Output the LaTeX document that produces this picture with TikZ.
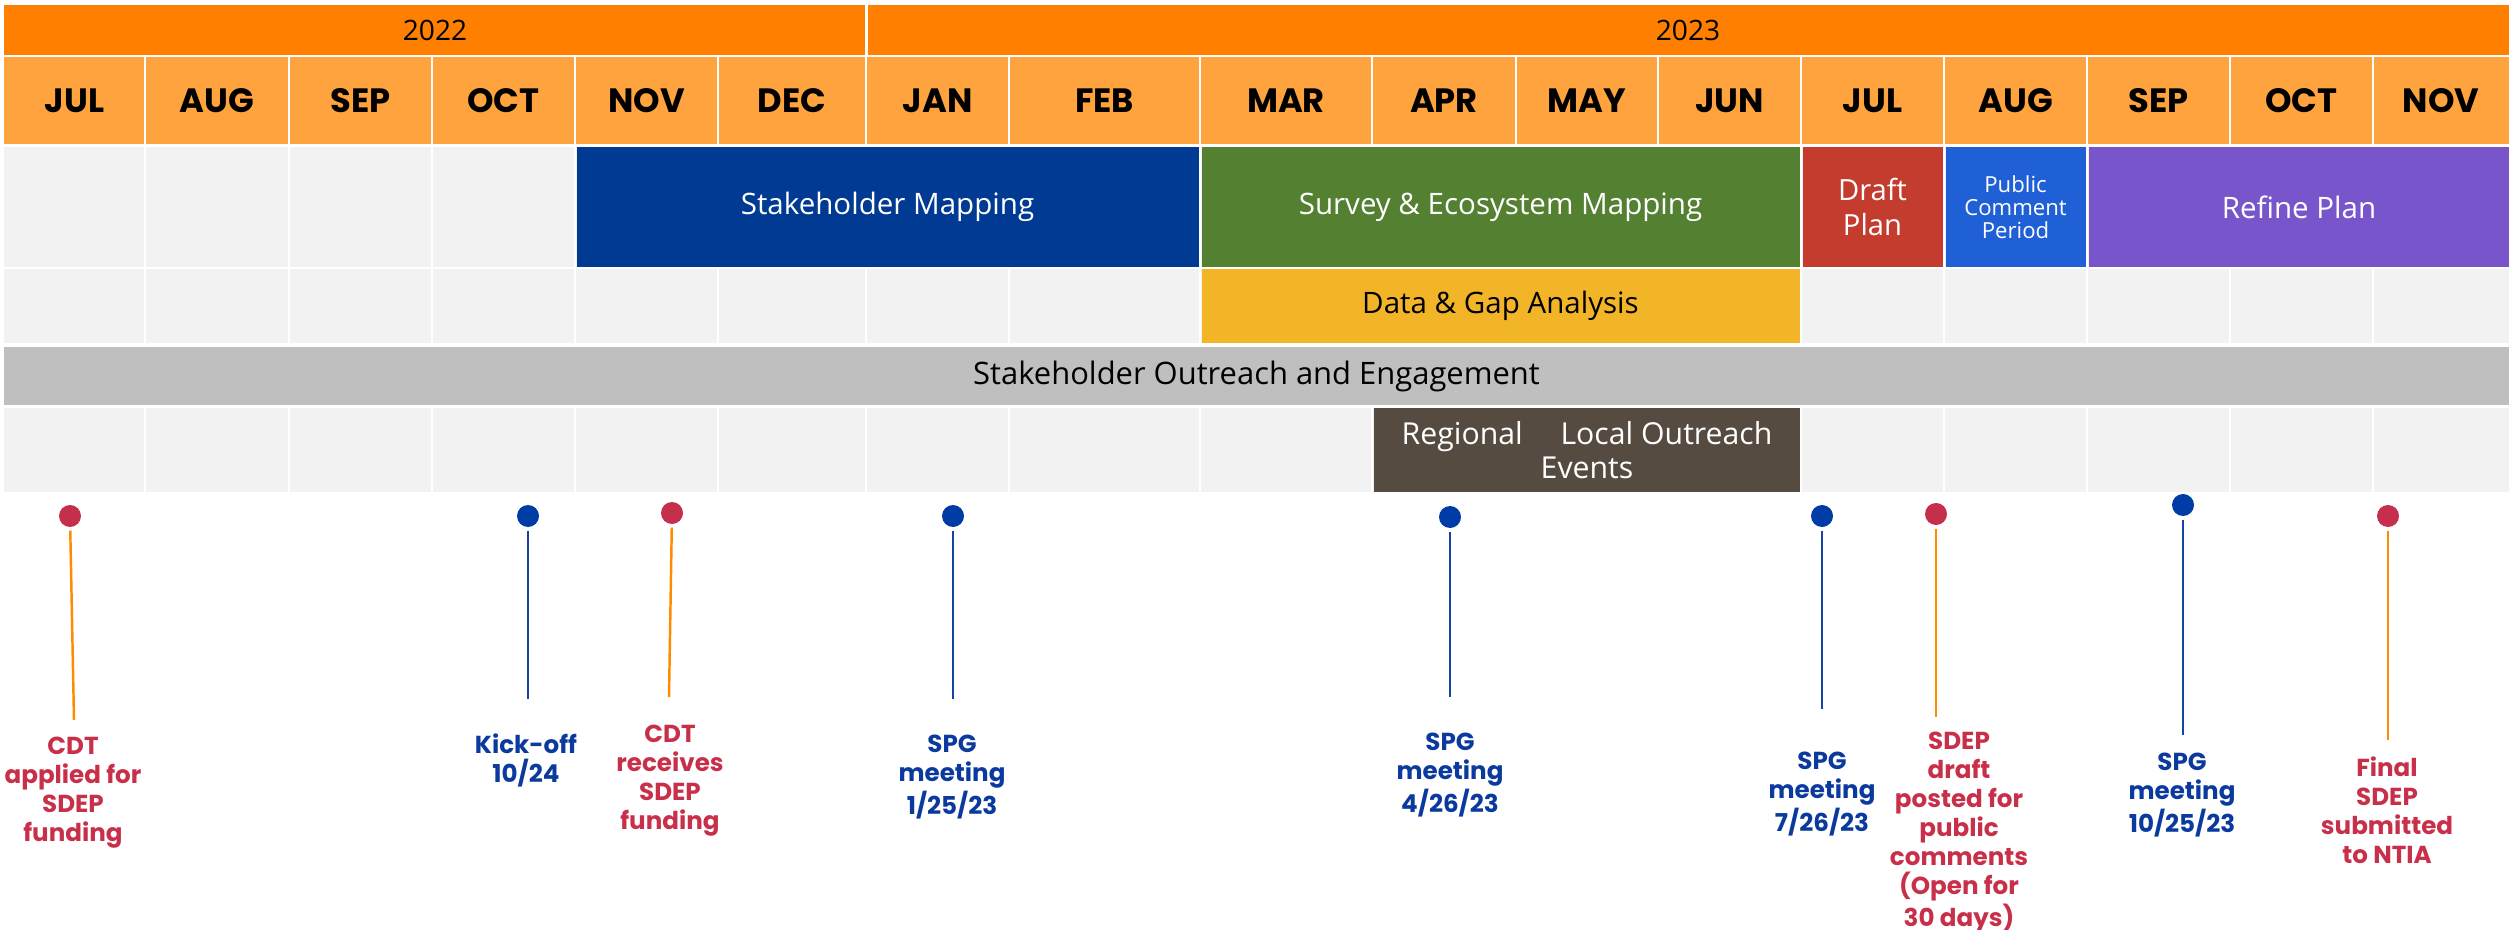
\documentclass[tikz,border=0pt]{standalone}
\usepackage{fontspec}
\setmainfont{Open Sans}
\newfontfamily\popfont{Poppins}
\usepackage{xcolor}
\usepackage{tikz}

\definecolor{yearorange}{HTML}{FF8000}
\definecolor{monthorange}{HTML}{FFA33F}
\definecolor{cellgray}{HTML}{F2F2F2}
\definecolor{smblue}{HTML}{003A93}
\definecolor{surveygreen}{HTML}{548032}
\definecolor{draftred}{HTML}{C43C2D}
\definecolor{publicblue}{HTML}{2060D6}
\definecolor{refinepurple}{HTML}{7855CB}
\definecolor{datayellow}{HTML}{F2B528}
\definecolor{outreachgray}{HTML}{BFBFBF}
\definecolor{regionalbrown}{HTML}{554B41}
\definecolor{dotred}{HTML}{C52F4B}
\definecolor{dotblue}{HTML}{003CA6}
\definecolor{lineorange}{HTML}{FF8C00}
\definecolor{lineblue}{HTML}{1442A8}
\definecolor{labelred}{HTML}{C8304A}
\definecolor{labelblue}{HTML}{0B3A9E}

\begin{document}
\begin{tikzpicture}[x=1cm,y=-1cm,
  gapline/.style={white,line width=0.8pt},
  yeartext/.style={font=\fontsize{8}{10}\selectfont,text=black},
  monthtext/.style={font=\popfont\bfseries\fontsize{9.6}{11}\selectfont,text=black},
  phasetext/.style={font=\fontsize{8.4}{10}\selectfont,text=white,align=center},
  reddot/.style={circle,fill=dotred,inner sep=0pt,minimum size=0.22cm},
  bluedot/.style={circle,fill=dotblue,inner sep=0pt,minimum size=0.22cm},
  orangeline/.style={lineorange,line width=0.7pt,shorten <=0.03cm},
  blueline/.style={lineblue,line width=0.7pt,shorten <=0.03cm},
  redlabel/.style={anchor=north,inner sep=0pt,align=center,text=labelred,font=\popfont\bfseries\fontsize{7}{8.25}\selectfont},
  bluelabel/.style={anchor=north,inner sep=0pt,align=center,text=labelblue,font=\popfont\bfseries\fontsize{7}{8.25}\selectfont}]

\useasboundingbox (0,0) rectangle (25.09,9.30);

\fill[yearorange] (0.04,0.05) rectangle (8.645,0.55);			% year 2022
\fill[yearorange] (8.675,0.05) rectangle (25.09,0.55);			% year 2023
\node[yeartext] (y2022) at (4.35,0.30) {2022};
\node[yeartext] (y2023) at (16.88,0.30) {2023};

\fill[monthorange] (0.04,0.57) rectangle (25.09,1.44);			% month row
\fill[cellgray] (0.04,1.47) rectangle (25.09,2.67);				% row 1
\fill[cellgray] (0.04,2.69) rectangle (25.09,3.43);				% row 2
\fill[cellgray] (0.04,4.08) rectangle (25.09,4.92);				% row 4
\foreach \x in {1.45,2.89,4.32,5.75,7.18,8.66,10.09,12.00,13.72,15.16,16.58,18.01,19.44,20.87,22.30,23.73}
  \draw[gapline] (\x,0.57) -- (\x,4.92);						% column gaps

\node[monthtext] (jul22) at (0.745,1.005) {JUL};
\node[monthtext] (aug22) at (2.17,1.005) {AUG};
\node[monthtext] (sep22) at (3.605,1.005) {SEP};
\node[monthtext] (oct22) at (5.035,1.005) {OCT};
\node[monthtext] (nov22) at (6.465,1.005) {NOV};
\node[monthtext] (dec22) at (7.92,1.005) {DEC};
\node[monthtext] (jan23) at (9.375,1.005) {JAN};
\node[monthtext] (feb23) at (11.045,1.005) {FEB};
\node[monthtext] (mar23) at (12.86,1.005) {MAR};
\node[monthtext] (apr23) at (14.44,1.005) {APR};
\node[monthtext] (may23) at (15.87,1.005) {MAY};
\node[monthtext] (jun23) at (17.295,1.005) {JUN};
\node[monthtext] (jul23) at (18.725,1.005) {JUL};
\node[monthtext] (aug23) at (20.155,1.005) {AUG};
\node[monthtext] (sep23) at (21.585,1.005) {SEP};
\node[monthtext] (oct23) at (23.015,1.005) {OCT};
\node[monthtext] (nov23) at (24.41,1.005) {NOV};

\fill[smblue] (5.765,1.47) rectangle (11.985,2.67);				% stakeholder mapping
\node[phasetext] (stakemap) at (8.875,2.07) {Stakeholder Mapping};
\fill[surveygreen] (12.015,1.47) rectangle (18.00,2.67);			% survey
\node[phasetext] (survey) at (15.005,2.07) {Survey \& Ecosystem Mapping};
\fill[draftred] (18.025,1.47) rectangle (19.425,2.67);			% draft plan
\node[phasetext,font=\fontsize{8.3}{10}\selectfont] (draft) at (18.725,2.07) {Draft\\Plan};
\fill[publicblue] (19.455,1.47) rectangle (20.855,2.67);			% public comment
\node[phasetext,font=\fontsize{6.3}{6.6}\selectfont] (pubcomment) at (20.155,2.07) {Public\\Comment\\Period};
\fill[refinepurple] (20.885,1.47) rectangle (25.09,2.67);			% refine plan
\node[phasetext] (refine) at (22.99,2.07) {Refine Plan};

\fill[datayellow] (12.015,2.69) rectangle (18.00,3.43);			% data and gap
\node[phasetext,text=black] (datagap) at (15.005,3.06) {Data \& Gap Analysis};

\fill[outreachgray] (0.04,3.47) rectangle (25.09,4.05);			% outreach band
\node[phasetext,text=black,font=\fontsize{8.8}{10}\selectfont] (outreach) at (12.565,3.76) {Stakeholder Outreach and Engagement};

\fill[regionalbrown] (13.735,4.08) rectangle (18.00,4.92);		% regional events
\node[phasetext,font=\fontsize{8.6}{9.7}\selectfont] (regional) at (15.87,4.50) {Regional \phantom{\&} Local Outreach\\Events};

\node[reddot] (d1) at (0.70,5.16) {};							% applied
\coordinate (e1) at (0.74,7.20);
\draw[orangeline] (d1) -- (e1);
\node[redlabel] (t1) at (0.73,7.36) {CDT\\applied for\\SDEP\\funding};

\node[bluedot] (d2) at (5.28,5.16) {};							% kick-off
\coordinate (e2) at (5.28,6.99);
\draw[blueline] (d2) -- (e2);
\node[bluelabel] (t2) at (5.26,7.33) {Kick-off\\10/24};

\node[reddot] (d3) at (6.72,5.13) {};							% receives
\coordinate (e3) at (6.69,6.97);
\draw[orangeline] (d3) -- (e3);
\node[redlabel] (t3) at (6.70,7.24) {CDT\\receives\\SDEP\\funding};

\node[bluedot] (d4) at (9.53,5.16) {};							% SPG 1
\coordinate (e4) at (9.53,6.99);
\draw[blueline] (d4) -- (e4);
\node[bluelabel] (t4) at (9.52,7.34) {SPG\\meeting\\1/25/23};

\node[bluedot] (d5) at (14.50,5.17) {};							% SPG 2
\coordinate (e5) at (14.50,6.97);
\draw[blueline] (d5) -- (e5);
\node[bluelabel] (t5) at (14.50,7.32) {SPG\\meeting\\4/26/23};

\node[bluedot] (d6) at (18.22,5.16) {};							% SPG 3
\coordinate (e6) at (18.22,7.09);
\draw[blueline] (d6) -- (e6);
\node[bluelabel] (t6) at (18.22,7.51) {SPG\\meeting\\7/26/23};

\node[reddot] (d7) at (19.36,5.14) {};							% draft posted
\coordinate (e7) at (19.36,7.17);
\draw[orangeline] (d7) -- (e7);
\node[redlabel] (t7) at (19.59,7.31) {SDEP\\draft\\posted for\\public\\comments\\(Open for\\30 days)};

\node[bluedot] (d8) at (21.83,5.05) {};							% SPG 4
\coordinate (e8) at (21.83,7.35);
\draw[blueline] (d8) -- (e8);
\node[bluelabel] (t8) at (21.82,7.52) {SPG\\meeting\\10/25/23};

\node[reddot] (d9) at (23.88,5.16) {};							% final
\coordinate (e9) at (23.88,7.40);
\draw[orangeline] (d9) -- (e9);
\node[redlabel] (t9) at (23.87,7.56) {Final\\SDEP\\submitted\\to NTIA};

\end{tikzpicture}
\end{document}
